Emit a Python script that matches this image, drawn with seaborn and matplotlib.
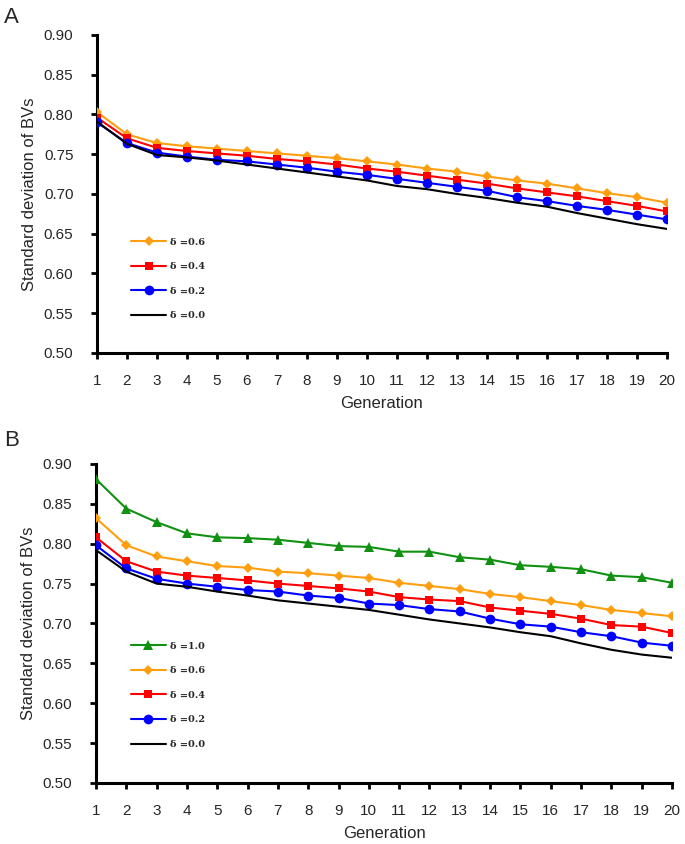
import matplotlib
matplotlib.use("Agg")
import matplotlib.pyplot as plt
import seaborn as sns
import pandas as pd

generations = list(range(1, 21))

# panel A
a_d06 = [0.803, 0.775, 0.764, 0.760, 0.757, 0.754, 0.751, 0.748, 0.745, 0.741,
         0.737, 0.732, 0.728, 0.722, 0.717, 0.713, 0.707, 0.701, 0.696, 0.689]
a_d04 = [0.796, 0.770, 0.758, 0.754, 0.751, 0.748, 0.744, 0.741, 0.737, 0.732,
         0.728, 0.723, 0.718, 0.713, 0.707, 0.702, 0.697, 0.691, 0.685, 0.678]
a_d02 = [0.790, 0.764, 0.752, 0.747, 0.743, 0.741, 0.737, 0.733, 0.728, 0.724,
         0.719, 0.714, 0.709, 0.704, 0.696, 0.691, 0.685, 0.680, 0.674, 0.668]
a_d00 = [0.791, 0.763, 0.749, 0.746, 0.742, 0.737, 0.732, 0.727, 0.722, 0.717,
         0.710, 0.706, 0.700, 0.695, 0.689, 0.684, 0.676, 0.669, 0.662, 0.656]

# panel B
b_d10 = [0.881, 0.844, 0.827, 0.813, 0.808, 0.807, 0.805, 0.801, 0.797, 0.796,
         0.790, 0.790, 0.783, 0.780, 0.773, 0.771, 0.768, 0.760, 0.758, 0.751]
b_d06 = [0.832, 0.798, 0.784, 0.778, 0.772, 0.770, 0.765, 0.763, 0.760, 0.757,
         0.751, 0.747, 0.743, 0.737, 0.733, 0.728, 0.723, 0.717, 0.713, 0.709]
b_d04 = [0.808, 0.778, 0.765, 0.760, 0.757, 0.754, 0.750, 0.747, 0.744, 0.740,
         0.733, 0.730, 0.728, 0.720, 0.716, 0.712, 0.706, 0.698, 0.696, 0.688]
b_d02 = [0.798, 0.769, 0.756, 0.750, 0.746, 0.742, 0.740, 0.735, 0.732, 0.725,
         0.723, 0.718, 0.715, 0.706, 0.699, 0.696, 0.689, 0.684, 0.676, 0.672]
b_d00 = [0.792, 0.765, 0.750, 0.746, 0.740, 0.735, 0.729, 0.725, 0.721, 0.717,
         0.711, 0.705, 0.700, 0.695, 0.689, 0.684, 0.675, 0.667, 0.661, 0.657]

yticks = [0.50, 0.55, 0.60, 0.65, 0.70, 0.75, 0.80, 0.85, 0.90]

# label, color, marker, marker size
styles = {
    "δ =1.0": ("#119111", "^", 10),
    "δ =0.6": ("#FF9E0F", "D", 8),
    "δ =0.4": ("#FF0000", "s", 8),
    "δ =0.2": ("#0000FF", "o", 10),
    "δ =0.0": ("#000000", None, 0),
}

sns.set_style("white")
plt.rcParams["font.family"] = ["Liberation Sans", "DejaVu Sans"]

fig = plt.figure(figsize=(6.85, 8.44), dpi=100)
ax_a = fig.add_axes([0.1416, 0.5818, 0.832, 0.3768])
ax_b = fig.add_axes([0.1401, 0.0723, 0.841, 0.3780])


def draw(ax, series, legend_top):
    for label, vals in series:
        color, marker, ms = styles[label]
        df = pd.DataFrame({"gen": generations, "sd": vals})
        sns.lineplot(data=df, x="gen", y="sd", ax=ax, color=color, lw=2.3,
                     marker=marker, markersize=ms, markeredgewidth=0,
                     label=label, zorder=3)
    handles, labels = ax.get_legend_handles_labels()
    for h in handles:
        h.set_markersize(h.get_markersize() * 0.7)
        h.set_linewidth(1.5)
    ax.legend(handles, labels, loc="upper left", bbox_to_anchor=(0.045, legend_top),
              frameon=False, handlelength=3.6, handletextpad=0.4,
              labelspacing=1.6,
              prop={"family": "DejaVu Serif", "weight": "bold", "size": 7})
    ax.set_xlim(1, 20)
    ax.set_ylim(0.5, 0.9)
    ax.set_xticks(generations)
    ax.set_yticks(yticks)
    ax.set_yticklabels([f"{t:.2f}" for t in yticks])
    ax.set_xlabel("Generation", fontsize=12, labelpad=6)
    ax.set_ylabel("Standard deviation of BVs", fontsize=12, labelpad=5)
    for s in ["top", "right"]:
        ax.spines[s].set_visible(False)
    for s in ["left", "bottom"]:
        ax.spines[s].set_linewidth(2.2)
        ax.spines[s].set_color("black")
    ax.tick_params(axis="both", direction="out", length=4, width=2,
                   labelsize=11, color="black", left=True, bottom=True)
    ax.tick_params(axis="x", pad=11)
    ax.tick_params(axis="y", pad=13)


draw(ax_a, [("δ =0.6", a_d06), ("δ =0.4", a_d04), ("δ =0.2", a_d02),
            ("δ =0.0", a_d00)], 0.39)
draw(ax_b, [("δ =1.0", b_d10), ("δ =0.6", b_d06), ("δ =0.4", b_d04),
            ("δ =0.2", b_d02), ("δ =0.0", b_d00)], 0.47)

fig.text(0.006, 0.979, "A", fontsize=16, va="center", ha="left")
fig.text(0.006, 0.4775, "B", fontsize=16, va="center", ha="left")

fig.savefig("out.png", dpi=100)
plt.close(fig)
